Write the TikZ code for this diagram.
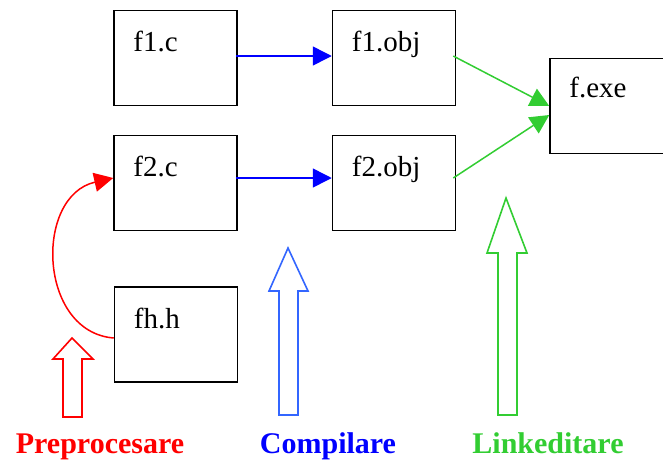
\documentclass[tikz,border=0pt]{standalone}
\usepackage{fontspec}
\setmainfont{Liberation Serif}
\usetikzlibrary{arrows.meta}
\definecolor{cblue}{RGB}{0,0,255}
\definecolor{lblue}{RGB}{51,102,255}
\definecolor{cgreen}{RGB}{50,205,50}
\definecolor{cred}{RGB}{255,0,0}
\tikzset{
  box/.style={draw=black,line width=1.5pt,minimum width=123pt,minimum height=95pt,inner sep=0pt},
  boxtext/.style={anchor=base west,inner sep=0pt,font=\fontsize{29}{32}\selectfont},
  conn/.style={line width=1.5pt,-{Triangle[length=19pt,width=19pt]}},
  hollow/.style={line width=1.6pt,line join=miter,fill=white},
  lbl/.style={anchor=base,inner sep=0pt,font=\fontsize{30}{34}\selectfont\bfseries}
}
\begin{document}
\begin{tikzpicture}[x=1pt,y=-1pt]
\useasboundingbox (0,0) rectangle (663,461);
% boxes
\node[box] (f1c) at (175.5,58) {};
\node[box] (f2c) at (175.5,183) {};
\node[box] (fhh) at (176,334.5) {};
\node[box] (f1o) at (394,58) {};
\node[box] (f2o) at (394,183) {};
\node[box] (fexe) at (611.5,106) {};
% texts
\node[boxtext] (t1c) at ([xshift=20pt,yshift=-42pt]f1c.north west) {f1.c};
\node[boxtext] (t2c) at ([xshift=20pt,yshift=-42pt]f2c.north west) {f2.c};
\node[boxtext] (thh) at ([xshift=20pt,yshift=-42pt]fhh.north west) {fh.h};
\node[boxtext] (t1o) at ([xshift=20pt,yshift=-42pt]f1o.north west) {f1.obj};
\node[boxtext] (t2o) at ([xshift=20pt,yshift=-42pt]f2o.north west) {f2.obj};
\node[boxtext] (texe) at ([xshift=20pt,yshift=-40pt]fexe.north west) {f.exe};
% connectors
\draw[conn,cblue] ([xshift=-2pt,yshift=2pt]f1c.east) -- ([yshift=2pt]f1o.west);
\draw[conn,cblue] ([xshift=-2pt,yshift=5pt]f2c.east) -- ([yshift=5pt]f2o.west);
\draw[conn,cgreen] ([xshift=-3pt,yshift=2pt]f1o.east) -- (fexe.west);
\draw[conn,cgreen] ([xshift=-3pt,yshift=5pt]f2o.east) -- ([yshift=-9pt]fexe.west);
\draw[conn,cred] ([yshift=-3.5pt]fhh.west) .. controls (38,332) and (34,196) .. ([yshift=5pt]f2c.west);
% hollow block arrows
\draw[cred,hollow] (72,338) -- (93,359) -- (82,359) -- (82,417) -- (63,417) -- (63,359) -- (53,359) -- cycle;
\draw[lblue,hollow] (288,248) -- (308,291) -- (298,291) -- (298,415) -- (279,415) -- (279,291) -- (269,291) -- cycle;
\draw[cgreen,hollow] (506,198) -- (527,253) -- (517,253) -- (517,415) -- (498,415) -- (498,253) -- (487,253) -- cycle;
% labels
\node[lbl,text=cred] (lpre) at (100,453) {Preprocesare};
\node[lbl,text=cblue] (lcomp) at (328,453) {Compilare};
\node[lbl,text=cgreen] (llink) at (548,453) {Linkeditare};
\end{tikzpicture}
\end{document}
